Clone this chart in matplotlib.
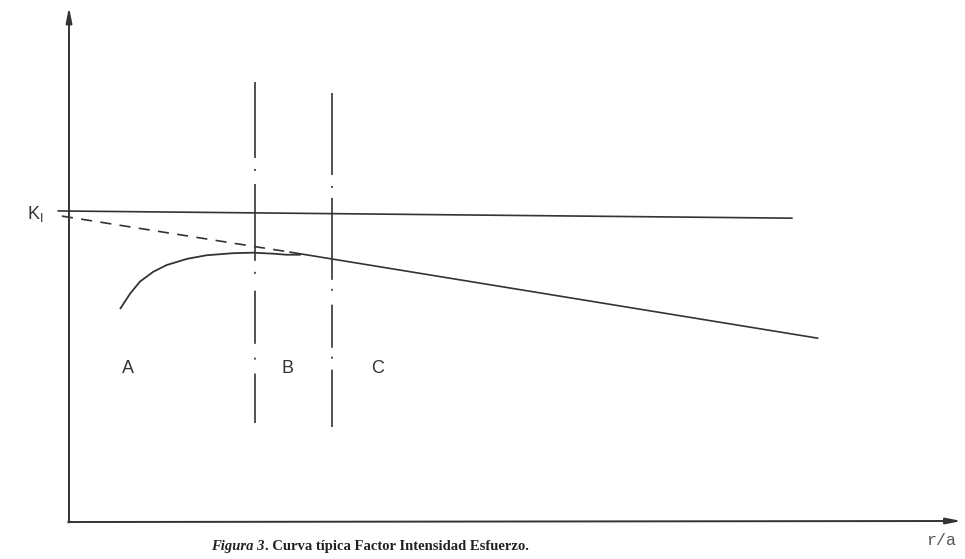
import matplotlib
matplotlib.use("Agg")
import matplotlib.pyplot as plt

# ---------------------------------------------------------------------------
# Data (r/a on x, K on y, arbitrary units)
# ---------------------------------------------------------------------------

# horizontal K_I level
ki_x = [-0.12, 8.14]
ki_y = [6.04, 5.90]

# linear asymptote: dashed extrapolation, then solid part
asym_dash_x = [-0.08, 2.49]
asym_dash_y = [5.94, 5.24]
asym_solid_x = [2.49, 8.43]
asym_solid_y = [5.24, 3.57]

# numerical curve (region A -> B)
curve_x = [0.58, 0.69, 0.80, 0.95, 1.10, 1.33, 1.55, 1.85, 2.07, 2.30, 2.45, 2.60]
curve_y = [4.15, 4.44, 4.67, 4.86, 4.99, 5.11, 5.18, 5.22, 5.23, 5.21, 5.19, 5.19]

# region boundaries
bound_x = [2.095, 2.962]
bound_top = [8.54, 8.33]
bound_bot = [1.92, 1.85]

region_labels = ['A', 'B', 'C']
region_x = [0.66, 2.46, 3.48]
region_y = 2.99

# ---------------------------------------------------------------------------
# Plot
# ---------------------------------------------------------------------------

plt.rcParams['lines.scale_dashes'] = False
ink = '#333333'

fig = plt.figure(figsize=(9.65, 5.59), dpi=100)
ax = fig.add_axes([0, 0, 1, 1])
ax.set_xlim(-0.777, 10.09)
ax.set_ylim(-0.718, 10.136)
ax.axis('off')

# axes with arrows
arrow = dict(arrowstyle='-|>,head_length=0.9,head_width=0.18',
             color=ink, lw=1.4, shrinkA=0, shrinkB=0)
ax.annotate('', xy=(10.05, 0.02), xytext=(-0.01, 0.0), arrowprops=arrow)
ax.annotate('', xy=(0.0, 10.0), xytext=(0.0, -0.01), arrowprops=arrow)

ax.plot(ki_x, ki_y, color=ink, lw=1.2)
ax.plot(asym_dash_x, asym_dash_y, color=ink, lw=1.2, linestyle=(0, (8, 6)))
ax.plot(asym_solid_x, asym_solid_y, color=ink, lw=1.2)
ax.plot(curve_x, curve_y, color=ink, lw=1.3, solid_joinstyle='round')

# hand-drawn dash-dot boundaries (irregular spacing, in points)
dash_patterns = [
    (0, (54.7, 7.9, 1.4, 9.4, 55.4, 7.9, 1.4, 12.2, 38.2, 10, 1.4, 10)),
    (0, (59, 7.9, 1.4, 7.2, 59, 6.5, 1.4, 10, 31, 6.5, 1.4, 7.9)),
]
for x, yt, yb, ls in zip(bound_x, bound_top, bound_bot, dash_patterns):
    ax.plot([x, x], [yt, yb], color=ink, lw=1.2, linestyle=ls)

for lab, x in zip(region_labels, region_x):
    ax.text(x, region_y, lab, ha='center', va='center', fontsize=13,
            family='Liberation Sans', color=ink)

ax.text(-0.47, 5.98, r'K$_\mathregular{I}$', ha='left', va='center',
        fontsize=13, family='Liberation Sans', color=ink)

# caption
t1 = fig.text(0.219, 0.016, 'Figura 3', fontsize=10.5, family='Liberation Serif',
              style='italic', weight='bold', color='#222222', ha='left', va='baseline')
ax.annotate('. Curva típica Factor Intensidad Esfuerzo.', xy=(1, 0), xycoords=t1,
            va='bottom', ha='left', fontsize=10.5, family='Liberation Serif',
            weight='bold', color='#222222')

fig.text(0.975, 0.025, 'r/a', fontsize=12, family='Liberation Mono',
         color='#555555', ha='center', va='baseline')

fig.savefig('out.png', dpi=100)
